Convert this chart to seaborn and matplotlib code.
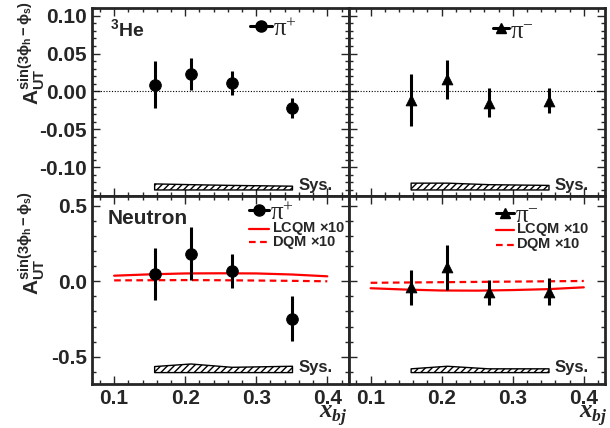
import numpy as np
import pandas as pd
import matplotlib
matplotlib.use("Agg")
import matplotlib.pyplot as plt
from matplotlib.ticker import MultipleLocator, FormatStrFormatter
import seaborn as sns

# ---- data ----
xbj = [0.157, 0.208, 0.266, 0.351]

he3_pip = [0.009, 0.0235, 0.0115, -0.022]
he3_pip_err = [0.031, 0.021, 0.016, 0.013]
he3_pim = [-0.011, 0.016, -0.015, -0.012]
he3_pim_err = [0.034, 0.026, 0.019, 0.016]
he3_pip_sys = [0.008, 0.007, 0.006, 0.005]
he3_pim_sys = [0.009, 0.009, 0.007, 0.006]

n_pip = [0.048, 0.184, 0.070, -0.248]
n_pip_err = [0.170, 0.178, 0.112, 0.150]
n_pim = [-0.040, 0.092, -0.072, -0.068]
n_pim_err = [0.117, 0.150, 0.083, 0.088]
n_pip_sys = [0.040, 0.057, 0.035, 0.042]
n_pim_sys = [0.025, 0.042, 0.025, 0.025]

x_model = [0.10, 0.15, 0.20, 0.25, 0.30, 0.35, 0.40]
lcqm_pip = [0.037, 0.046, 0.052, 0.053, 0.052, 0.045, 0.033]
dqm_pip = [0.006, 0.007, 0.008, 0.007, 0.005, 0.003, 0.000]
lcqm_pim = [-0.046, -0.055, -0.061, -0.062, -0.058, -0.052, -0.040]
dqm_pim = [-0.010, -0.008, -0.006, -0.004, -0.002, 0.000, 0.002]

sys_base_top = -0.130
sys_base_bot = -0.605

sns.set_style("ticks")
plt.rcParams["font.family"] = ["Liberation Sans", "DejaVu Sans"]
plt.rcParams["font.weight"] = "bold"
plt.rcParams["axes.unicode_minus"] = False
plt.rcParams["mathtext.fontset"] = "custom"
plt.rcParams["mathtext.rm"] = "Liberation Sans:bold"
plt.rcParams["mathtext.it"] = "Liberation Serif:bold:italic"
plt.rcParams["mathtext.bf"] = "Liberation Sans:bold"
plt.rcParams["mathtext.default"] = "regular"

fig, axes = plt.subplots(2, 2, figsize=(6.1, 4.28), dpi=100, sharex=True)
fig.subplots_adjust(left=0.151, right=0.992, top=0.981, bottom=0.103,
                    hspace=0, wspace=0)

# legend anchors in axes fraction: (line start, line end, rows y)
leg_pos = [
    (0.616, 0.70, [0.905]),
    (0.562, 0.625, [0.893]),
    (0.612, 0.69, [0.925, 0.825, 0.753]),
    (0.574, 0.643, [0.91, 0.82, 0.74]),
]

panels = [
    (axes[0, 0], he3_pip, he3_pip_err, he3_pip_sys, "o", "π$^{+}$", None, None),
    (axes[0, 1], he3_pim, he3_pim_err, he3_pim_sys, "^", "π$^{-}$", None, None),
    (axes[1, 0], n_pip, n_pip_err, n_pip_sys, "o", "π$^{+}$", lcqm_pip, dqm_pip),
    (axes[1, 1], n_pim, n_pim_err, n_pim_sys, "^", "π$^{-}$", lcqm_pim, dqm_pim),
]

for i, (ax, y, err, sysv, mk, lab, lc, dq) in enumerate(panels):
    top = i < 2
    base = sys_base_top if top else sys_base_bot
    df = pd.DataFrame({"x": xbj, "y": y})
    if lc is not None:
        mdf = pd.DataFrame({"x": x_model, "lcqm": lc, "dqm": dq})
        sns.lineplot(data=mdf, x="x", y="lcqm", ax=ax, color="red", lw=1.6)
        sns.lineplot(data=mdf, x="x", y="dqm", ax=ax, color="red", lw=1.6,
                     linestyle=(0, (3, 2)))
    ax.errorbar(xbj, y, yerr=err, fmt="none", ecolor="black", elinewidth=2.2)
    sns.scatterplot(data=df, x="x", y="y", ax=ax, marker=mk, color="black",
                    s=70 if mk == "o" else 60, edgecolor="black", zorder=5)
    ax.fill_between(xbj, base, np.array(sysv) + base, facecolor="white",
                    edgecolor="black", hatch="/////", lw=1.0)
    ax.text(0.359, base + (0.006 if top else 0.035), "Sys.", fontsize=12,
            fontweight="bold", va="center", ha="left")

    # hand-placed legend entries
    x0, x1, rows = leg_pos[i]
    tr = ax.transAxes
    ax.plot([x0, x1], [rows[0], rows[0]], color="black", lw=2.2, transform=tr,
            clip_on=False)
    ax.plot([(x0 + x1) / 2], [rows[0]], marker=mk, color="black",
            markersize=8 if mk == "o" else 7, transform=tr, clip_on=False)
    ax.text(x1 + 0.005, rows[0] - 0.055, lab, transform=tr, fontsize=18,
            family="Liberation Serif", fontweight="normal", va="baseline")
    if lc is not None:
        ax.plot([x0, x1], [rows[1], rows[1]], color="red", lw=1.6, transform=tr)
        ax.text(x1 + 0.01, rows[1], r"LCQM $\times$10", transform=tr,
                fontsize=10.5, fontweight="bold", va="center")
        ax.plot([x0, x1], [rows[2], rows[2]], color="red", lw=1.6,
                linestyle=(0, (3, 2)), transform=tr)
        ax.text(x1 + 0.01, rows[2], r"DQM $\times$10", transform=tr,
                fontsize=10.5, fontweight="bold", va="center")

    ax.set_xlim(0.069, 0.43)
    if top:
        ax.set_ylim(-0.138, 0.11)
        ax.axhline(0, color="black", lw=0.8, ls=(0, (1, 1.5)))
        ax.yaxis.set_major_locator(MultipleLocator(0.05))
        ax.yaxis.set_minor_locator(MultipleLocator(0.01))
    else:
        ax.set_ylim(-0.68, 0.565)
        ax.yaxis.set_major_locator(MultipleLocator(0.5))
        ax.yaxis.set_minor_locator(MultipleLocator(0.1))
    ax.xaxis.set_major_locator(MultipleLocator(0.1))
    ax.xaxis.set_minor_locator(MultipleLocator(0.02))
    ax.tick_params(which="both", direction="in", top=True, right=True,
                   labelsize=15, width=1.0)
    ax.tick_params(which="major", length=6)
    ax.tick_params(which="minor", length=3)
    for sp in ax.spines.values():
        sp.set_linewidth(2.0)
    ax.set_xlabel("")
    ax.set_ylabel("")
    if i % 2 == 1:
        ax.tick_params(labelleft=False)

axes[0, 0].yaxis.set_major_formatter(FormatStrFormatter("%.2f"))
axes[1, 0].yaxis.set_major_formatter(FormatStrFormatter("%.1f"))
axes[1, 0].xaxis.set_major_formatter(FormatStrFormatter("%.1f"))
axes[1, 1].xaxis.set_major_formatter(FormatStrFormatter("%.1f"))
for ax in axes.flat:
    for t in ax.get_xticklabels() + ax.get_yticklabels():
        t.set_fontweight("bold")

axes[0, 0].text(0.07, 0.89, r"$^{3}$He", transform=axes[0, 0].transAxes,
                fontsize=14, fontweight="bold", va="center")
axes[1, 0].text(0.06, 0.88, "Neutron", transform=axes[1, 0].transAxes,
                fontsize=15, fontweight="bold", va="center")

ylab = r"A$_{UT}^{sin(3\phi_{h}-\phi_{s})}$"
fig.text(0.052, 1 - 53 / 428, ylab, rotation=90, ha="center", va="center",
         fontsize=15, fontweight="bold")
fig.text(0.052, 1 - 243 / 428, ylab, rotation=90, ha="center", va="center",
         fontsize=15, fontweight="bold")

xlab = r"$\mathit{x}_{\mathit{bj}}$"
fig.text(333 / 610, 1 - 418 / 428, xlab, ha="center", va="baseline", fontsize=18)
fig.text(593 / 610, 1 - 418 / 428, xlab, ha="center", va="baseline", fontsize=18)

fig.savefig("out.png", dpi=100)
